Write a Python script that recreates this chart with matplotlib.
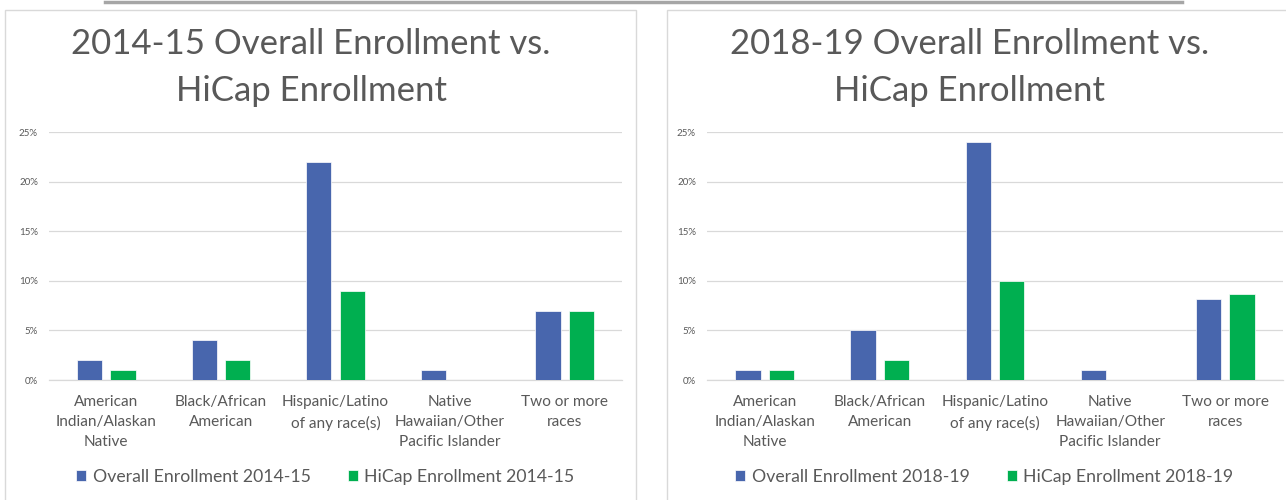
import numpy as np
import matplotlib.pyplot as plt
from matplotlib.patches import Rectangle
from matplotlib.lines import Line2D
from matplotlib.ticker import FuncFormatter

plt.rcParams['font.family'] = ['Lato', 'DejaVu Sans']

categories = ["American\nIndian/Alaskan\nNative", "Black/African\nAmerican",
              "Hispanic/Latino\nof any race(s)", "Native\nHawaiian/Other\nPacific Islander",
              "Two or more\nraces"]

overall_1415 = [2, 4, 22, 1, 7]
hicap_1415 = [1, 2, 9, 0, 7]
overall_1819 = [1, 5, 24, 1, 8.2]
hicap_1819 = [1, 2, 10, 0, 8.7]

years = ["2014-15", "2018-19"]
y_ticks = [0, 5, 10, 15, 20, 25]

blue = "#4866AD"
green = "#00AF50"
txt = "#595959"
grid_c = "#D9D9D9"

W, H = 1286, 500
fig = plt.figure(figsize=(W / 100, H / 100), dpi=100)

# thin gray bar at the very top + panel borders
fig.add_artist(Line2D([105 / W, 1182 / W], [1 - 1.5 / H, 1 - 1.5 / H], color="#A6A6A6", lw=2.5))
fig.add_artist(Rectangle((5 / W, -0.01), 631 / W, 1.01 - 10 / H, fill=False, ec=grid_c, lw=1))
fig.add_artist(Rectangle((667 / W, -0.01), 640 / W, 1.01 - 10 / H, fill=False, ec=grid_c, lw=1))

panels = [
    (49, 622, 311, 60 / W, overall_1415, hicap_1415),
    (707, 1283, 970, 719 / W, overall_1819, hicap_1819),
]

x = np.arange(len(categories))
bw = 0.22
off = 0.145

for i, (x0, x1, tx, lx, ov, hc) in enumerate(panels):
    ax = fig.add_axes([x0 / W, 120 / H, (x1 - x0) / W, 248 / H])
    ax.bar(x - off, ov, bw, color=blue, ec="white", lw=0.5, label="Overall Enrollment " + years[i], zorder=3)
    ax.bar(x + off, hc, bw, color=green, ec="white", lw=0.5, label="HiCap Enrollment " + years[i], zorder=3)
    ax.set_xlim(-0.5, len(categories) - 0.5)
    ax.set_ylim(0, 25)
    ax.set_yticks(y_ticks)
    ax.yaxis.set_major_formatter(FuncFormatter(lambda v, p: "%d%%" % v))
    ax.set_xticks(x)
    ax.set_xticklabels(categories, linespacing=1.55)
    ax.tick_params(axis="x", length=0, pad=11, labelsize=11.1, labelcolor=txt)
    ax.tick_params(axis="y", length=0, pad=8, labelsize=7, labelcolor=txt)
    ax.grid(axis="y", color=grid_c, lw=0.9, zorder=0)
    for s in ["top", "right", "left"]:
        ax.spines[s].set_visible(False)
    ax.spines["bottom"].set_color(grid_c)
    ax.spines["bottom"].set_linewidth(0.9)

    fig.text(tx / W, 1 - 44 / H, years[i] + " Overall Enrollment vs.", ha="center", va="center",
             fontsize=25, color=txt)
    fig.text(tx / W, 1 - 91 / H, "HiCap Enrollment", ha="center", va="center",
             fontsize=25, color=txt)

    leg = fig.legend(*ax.get_legend_handles_labels(), loc="center left",
                     bbox_to_anchor=(lx, 1 - 477 / H), ncol=2, frameon=False,
                     fontsize=12.7, handlelength=0.6, handleheight=0.6, handletextpad=0.35,
                     columnspacing=2.1)
    for t in leg.get_texts():
        t.set_color(txt)

fig.savefig("out.png", dpi=100)
